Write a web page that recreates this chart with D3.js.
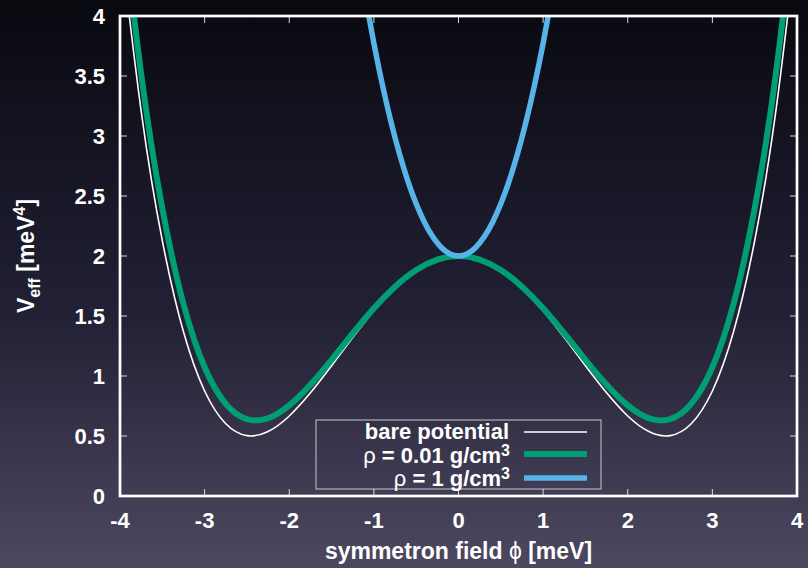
<html>
<head>
<script src="https://d3js.org/d3.v7.min.js"></script>
<style>
  body { margin: 0; background: #000; }
  text { font-family: "Liberation Sans", Arial, Helvetica, sans-serif; font-weight: bold; fill: #fff; }
</style>
</head>
<body>
<div id="chartDiv1"></div>
<script>
// field values (meV) and potentials
const phiWide = [-4, -3.75, -3.5, -3.25, -3, -2.75, -2.5, -2.25, -2, -1.75, -1.5, -1.25, -1, -0.75, -0.5, -0.25,
                 0, 0.25, 0.5, 0.75, 1, 1.25, 1.5, 1.75, 2, 2.25, 2.5, 2.75, 3, 3.25, 3.5, 3.75, 4];
const barePotential = [4.667, 3.208, 2.128, 1.368, 0.875, 0.602, 0.503, 0.537, 0.667, 0.860, 1.086, 1.320, 1.542, 1.732, 1.878, 1.969,
                       2.000, 1.969, 1.878, 1.732, 1.542, 1.320, 1.086, 0.860, 0.667, 0.537, 0.503, 0.602, 0.875, 1.368, 2.128, 3.208, 4.667];
const rhoLow = [5.019, 3.518, 2.397, 1.600, 1.073, 0.768, 0.640, 0.648, 0.755, 0.927, 1.135, 1.355, 1.564, 1.744, 1.883, 1.970,
                2.000, 1.970, 1.883, 1.744, 1.564, 1.355, 1.135, 0.927, 0.755, 0.648, 0.640, 0.768, 1.073, 1.600, 2.397, 3.518, 5.019];
const phiNarrow = [-1.1, -1.0, -0.9, -0.8, -0.7, -0.6, -0.5, -0.4, -0.3, -0.2, -0.1, 0, 0.1, 0.2, 0.3, 0.4, 0.5, 0.6, 0.7, 0.8, 0.9, 1.0, 1.1];
const rhoHigh = [4.154, 3.772, 3.429, 3.124, 2.858, 2.628, 2.435, 2.278, 2.156, 2.069, 2.017, 2.000,
                 2.017, 2.069, 2.156, 2.278, 2.435, 2.628, 2.858, 3.124, 3.429, 3.772, 4.154];

const xTicks = [-4, -3, -2, -1, 0, 1, 2, 3, 4];
const yTicks = [0, 0.5, 1, 1.5, 2, 2.5, 3, 3.5, 4];

const W = 808, H = 568;
const margin = { top: 16, right: 11, bottom: 72, left: 120 },
  width = W - margin.left - margin.right,
  height = H - margin.top - margin.bottom;

const root = d3.select("#chartDiv1").append("svg")
  .attr("width", W).attr("height", H);

const defs = root.append("defs");
const grad = defs.append("linearGradient").attr("id", "bg")
  .attr("x1", 0).attr("y1", 0).attr("x2", 0).attr("y2", 1);
grad.append("stop").attr("offset", "0%").attr("stop-color", "#090910");
grad.append("stop").attr("offset", "55%").attr("stop-color", "#222035");
grad.append("stop").attr("offset", "100%").attr("stop-color", "#4c4860");
root.append("rect").attr("width", W).attr("height", H).attr("fill", "url(#bg)");

defs.append("clipPath").attr("id", "plotClip")
  .append("rect").attr("width", width).attr("height", height);

const svg = root.append("g")
  .attr("transform", "translate(" + margin.left + "," + margin.top + ")");

const x = d3.scaleLinear().domain([-4, 4]).range([0, width]);
const y = d3.scaleLinear().domain([0, 4]).range([height, 0]);

// ticks on all four sides, pointing inwards
const tickLen = 7;
const tickColor = "#d8d8d8";
xTicks.forEach(t => {
  svg.append("line").attr("x1", x(t)).attr("x2", x(t)).attr("y1", height).attr("y2", height - tickLen)
    .attr("stroke", tickColor).attr("stroke-width", 1);
  svg.append("line").attr("x1", x(t)).attr("x2", x(t)).attr("y1", 0).attr("y2", tickLen)
    .attr("stroke", tickColor).attr("stroke-width", 1);
  svg.append("text").attr("x", x(t)).attr("y", height + 32)
    .attr("text-anchor", "middle").style("font-size", "22px").text(t);
});
yTicks.forEach(t => {
  svg.append("line").attr("x1", 0).attr("x2", tickLen).attr("y1", y(t)).attr("y2", y(t))
    .attr("stroke", tickColor).attr("stroke-width", 1);
  svg.append("line").attr("x1", width).attr("x2", width - tickLen).attr("y1", y(t)).attr("y2", y(t))
    .attr("stroke", tickColor).attr("stroke-width", 1);
  svg.append("text").attr("x", -15).attr("y", y(t)).attr("dy", "0.36em")
    .attr("text-anchor", "end").style("font-size", "22px").text(t);
});

// curves
const line = (xs) => d3.line()
  .x((d, i) => x(xs[i]))
  .y(d => y(d))
  .curve(d3.curveNatural);

const curves = svg.append("g").attr("clip-path", "url(#plotClip)");
curves.append("path").datum(barePotential).attr("d", line(phiWide))
  .attr("fill", "none").attr("stroke", "#ffffff").attr("stroke-width", 1.6);
curves.append("path").datum(rhoLow).attr("d", line(phiWide))
  .attr("fill", "none").attr("stroke", "#009e73").attr("stroke-width", 6);
curves.append("path").datum(rhoHigh).attr("d", line(phiNarrow))
  .attr("fill", "none").attr("stroke", "#56b4e9").attr("stroke-width", 5.5);

// border
svg.append("rect").attr("width", width).attr("height", height)
  .attr("fill", "none").attr("stroke", "#ffffff").attr("stroke-width", 2.7);

// legend
const lg = svg.append("g").attr("transform", "translate(" + (316 - margin.left) + "," + (420 - margin.top) + ")");
lg.append("rect").attr("width", 285).attr("height", 69)
  .attr("fill", "none").attr("stroke", "#c8c8c8").attr("stroke-width", 1);
const legendItems = [
  { color: "#ffffff", w: 1.6, y: 12 },
  { color: "#009e73", w: 6, y: 34 },
  { color: "#56b4e9", w: 5.5, y: 58 }
];
legendItems.forEach(d => {
  lg.append("line").attr("x1", 208).attr("x2", 271).attr("y1", d.y).attr("y2", d.y)
    .attr("stroke", d.color).attr("stroke-width", d.w);
});
lg.append("text").attr("x", 193).attr("y", 19).attr("text-anchor", "end")
  .style("font-size", "22px").text("bare potential");
const t2 = lg.append("text").attr("x", 194).attr("y", 43).attr("text-anchor", "end").style("font-size", "22px");
t2.append("tspan").style("font-weight", "normal").text("ρ");
t2.append("tspan").text(" = 0.01 g/cm");
t2.append("tspan").attr("dy", -7).style("font-size", "16px").text("3");
const t3 = lg.append("text").attr("x", 194).attr("y", 66).attr("text-anchor", "end").style("font-size", "22px");
t3.append("tspan").style("font-weight", "normal").text("ρ");
t3.append("tspan").text(" = 1 g/cm");
t3.append("tspan").attr("dy", -7).style("font-size", "16px").text("3");

// axis titles
const xt = svg.append("text").attr("x", width / 2).attr("y", height + 63)
  .attr("text-anchor", "middle").style("font-size", "23px");
xt.append("tspan").text("symmetron field ");
xt.append("tspan").style("font-weight", "normal").text("ϕ");
xt.append("tspan").text(" [meV]");

const yt = root.append("text")
  .attr("transform", "translate(34,256) rotate(-90)")
  .attr("text-anchor", "middle").style("font-size", "23px");
yt.append("tspan").text("V");
yt.append("tspan").attr("dy", 6).style("font-size", "16px").text("eff");
yt.append("tspan").attr("dy", -6).text(" [meV");
yt.append("tspan").attr("dy", -9).style("font-size", "16px").text("4");
yt.append("tspan").attr("dy", 9).text("]");
</script>
</body>
</html>
